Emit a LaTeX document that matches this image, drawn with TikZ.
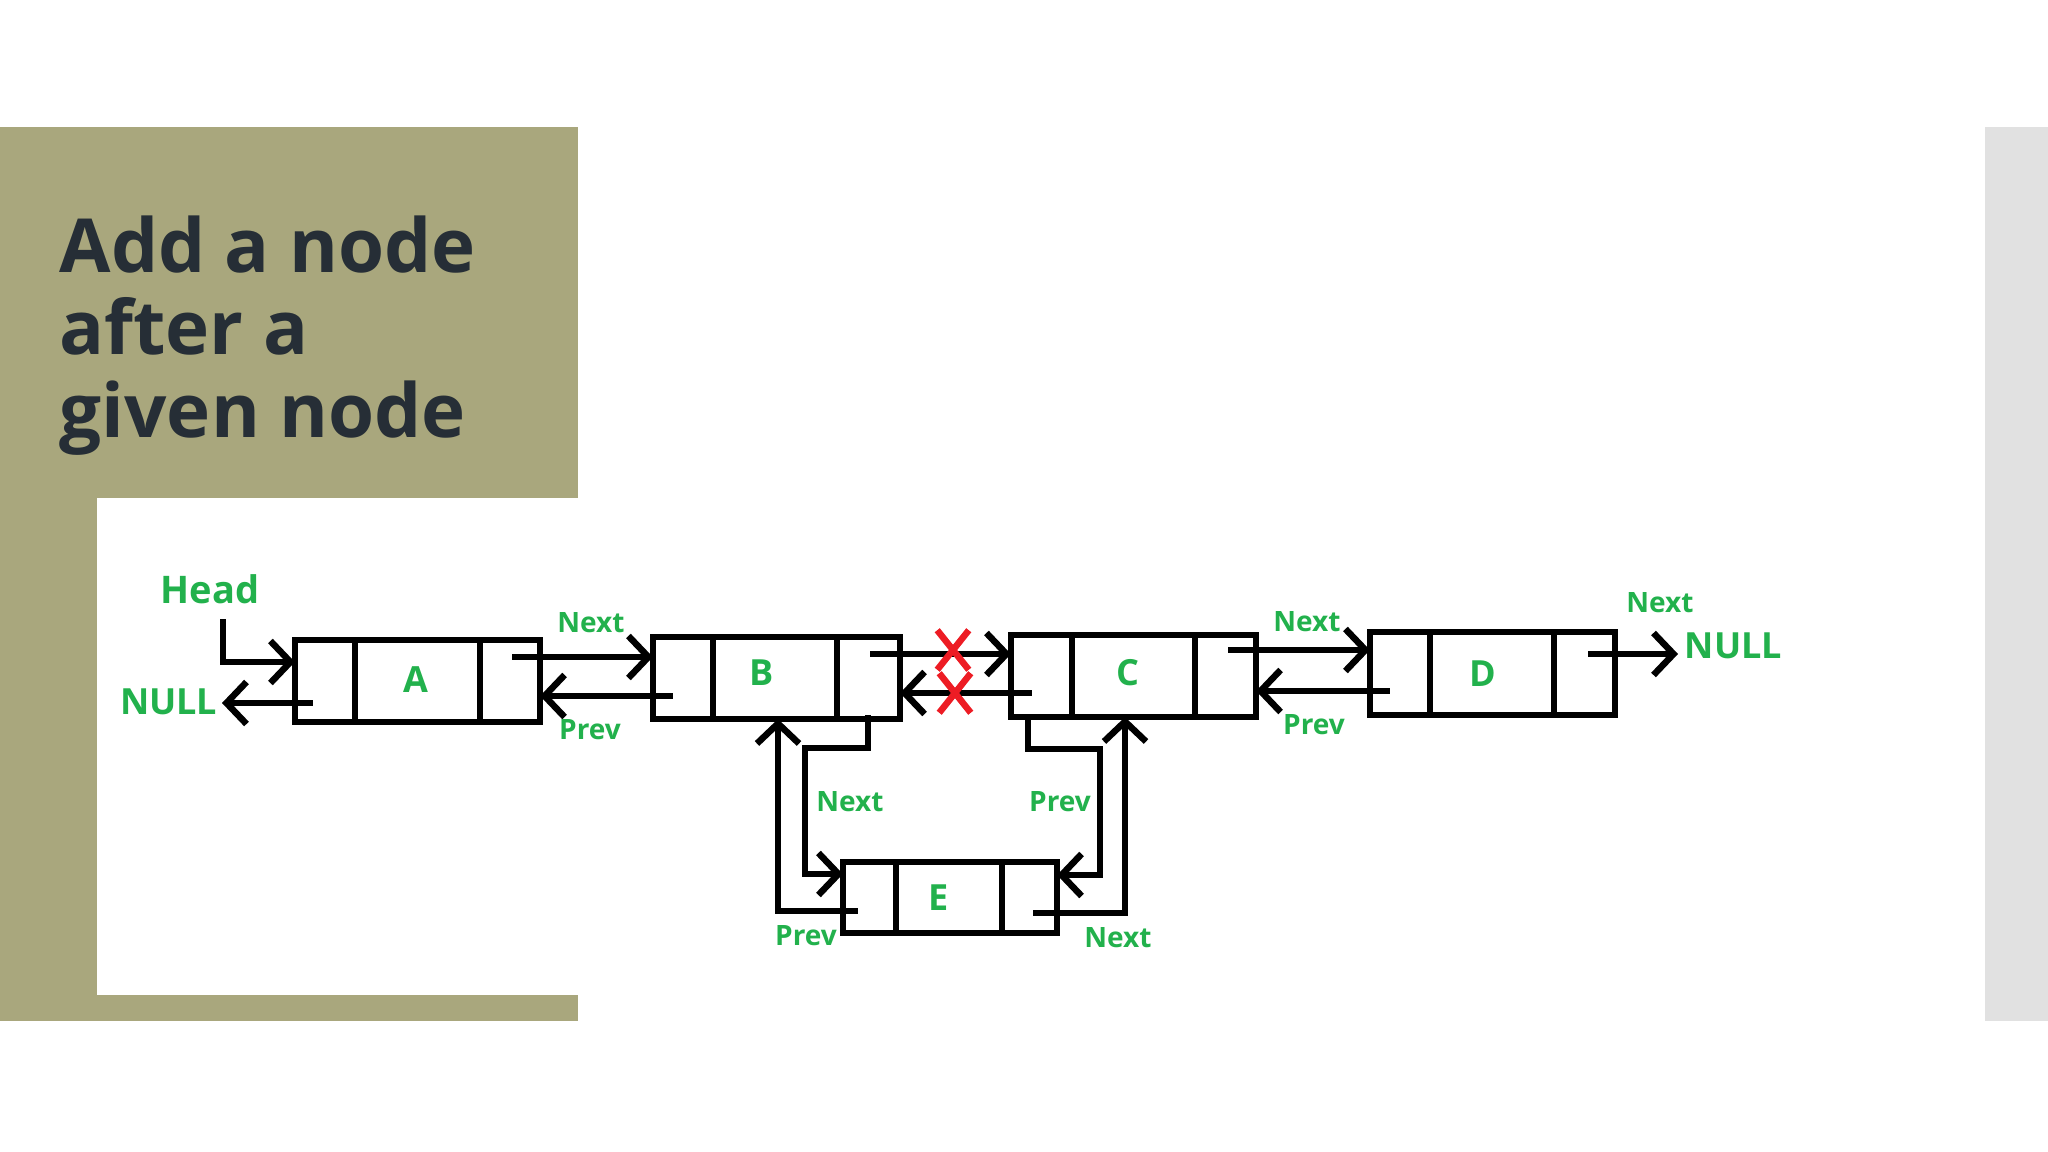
\documentclass[tikz,border=0pt]{standalone}
\usepackage{fontspec}
\setmainfont{Open Sans}
\usepackage{tikz}
\usetikzlibrary{calc,arrows.meta,shapes.misc}

\definecolor{slideolive}{RGB}{169,167,125}
\definecolor{slidegray}{RGB}{225,225,225}
\definecolor{titleink}{RGB}{38,46,54}
\definecolor{paintgreen}{RGB}{34,177,76}
\definecolor{paintred}{RGB}{237,28,36}

\tikzset{
  listbox/.style={draw, line width=0.065cm, minimum width=2.45cm, minimum height=0.82cm,
    inner sep=0pt, outer sep=0pt},
  value/.style={text=paintgreen, inner sep=0pt, font=\bfseries\fontsize{0.36cm}{0.4cm}\selectfont},
  link/.style={line width=0.065cm, -{Straight Barb[length=0.2cm,width=0.42cm]}},
  tag/.style={text=paintgreen, inner sep=0pt, font=\bfseries\fontsize{0.28cm}{0.32cm}\selectfont},
  nulltag/.style={text=paintgreen, inner sep=0pt, font=\bfseries\fontsize{0.36cm}{0.4cm}\selectfont},
  cut/.style={cross out, draw=paintred, line width=0.065cm, minimum width=0.25cm,
    minimum height=0.33cm, inner sep=0pt},
  title/.style={anchor=base west, inner sep=0pt, text=titleink,
    font=\bfseries\fontsize{0.745cm}{0.82cm}\selectfont}
}

\begin{document}
\begin{tikzpicture}[x=0.01cm,y=-0.01cm]
      \useasboundingbox (0,0) rectangle (2048,1152);
      % slide frame
      \fill[slideolive] (0,127) rectangle (578,1021);
      \fill[white] (97,498) rectangle (578,995);
      \fill[slidegray] (1985,127) rectangle (2048,1021);
      \node[title] (title1) at (59,273) {Add a node};
      \node[title] (title2) at (59,355) {after a};
      \node[title] (title3) at (59,438) {given node};
      % the list
      \node[listbox] (A) at (417.5,681) {};
      \node[listbox, minimum width=2.47cm] (B) at (776.5,678) {};
      \node[listbox] (C) at (1133.5,676) {};
      \node[listbox, minimum height=0.83cm] (D) at (1492.5,673.5) {};
      \node[listbox, minimum width=2.14cm, minimum height=0.71cm] (E) at (950,897.5) {};
      \draw[line width=0.065cm] ($(A.north west)+(60,0)$) -- ($(A.south west)+(60,0)$);
      \draw[line width=0.065cm] ($(A.north east)+(-60,0)$) -- ($(A.south east)+(-60,0)$);
      \draw[line width=0.065cm] ($(B.north west)+(60,0)$) -- ($(B.south west)+(60,0)$);
      \draw[line width=0.065cm] ($(B.north east)+(-63,0)$) -- ($(B.south east)+(-63,0)$);
      \draw[line width=0.065cm] ($(C.north west)+(61,0)$) -- ($(C.south west)+(61,0)$);
      \draw[line width=0.065cm] ($(C.north east)+(-61,0)$) -- ($(C.south east)+(-61,0)$);
      \draw[line width=0.065cm] ($(D.north west)+(60,0)$) -- ($(D.south west)+(60,0)$);
      \draw[line width=0.065cm] ($(D.north east)+(-61,0)$) -- ($(D.south east)+(-61,0)$);
      \draw[line width=0.065cm] ($(E.north west)+(53,0)$) -- ($(E.south west)+(53,0)$);
      \draw[line width=0.065cm] ($(E.north east)+(-55,0)$) -- ($(E.south east)+(-55,0)$);
      \node[value] (Aval) at ($(A)+(-1.5,-1)$) {A};
      \node[value] (Bval) at ($(B)+(-15,-5)$) {B};
      \node[value] (Cval) at ($(C)+(-6,-3)$) {C};
      \node[value] (Dval) at ($(D)+(-10,0)$) {D};
      \node[value] (Eval) at ($(E)+(-11,0)$) {E};
      % head and the left end
      \node[tag, font=\bfseries\fontsize{0.38cm}{0.4cm}\selectfont] (head) at (210,589) {Head};
      \coordinate (hd) at (223,619);
      \draw[link] (hd) |- ($(A.west)+(0,-19)$);
      \node[nulltag, anchor=east] (nullA) at (218,702) {NULL};
      \draw[link] ($(A.west)+(18,22)$) -- ($(nullA.east)+(4,1)$);
      % A <-> B
      \draw[link] ($(A.east)+(-28,-24)$) -- ($(B.west)+(0,-21)$);
      \draw[link] ($(B.west)+(20,18)$) -- ($(A.east)+(0,15)$);
      \node[tag] (next1) at (591,623) {Next};
      \node[tag] (prev1) at (590,730) {Prev};
      % B <-> C, now cut
      \draw[link] ($(B.east)+(-30,-24)$) -- ($(C.west)+(0,-22)$);
      \draw[link] ($(C.west)+(21,17)$) -- ($(B.east)+(0,15)$);
      \node[cut] (cut1) at (953,650) {};
      \node[cut] (cut2) at (955,693) {};
      % C <-> D
      \draw[link] ($(C.east)+(-28,-26)$) -- ($(D.west)+(0,-23.5)$);
      \draw[link] ($(D.west)+(20,17.5)$) -- ($(C.east)+(0,15)$);
      \node[tag] (next3) at (1307,622) {Next};
      \node[tag] (prev3) at (1314,725) {Prev};
      % right end
      \node[nulltag, anchor=west] (nullD) at (1684,646) {NULL};
      \draw[link] ($(D.east)+(-27,-19.5)$) -- ($(nullD.west)+(-6,8)$);
      \node[tag] (next4) at (1660,603) {Next};
      % new node E
      \coordinate (bn) at ($(B.south east)+(-32,-4)$);
      \draw[link] (bn) |- ($(E.west)+(-38,-149.5)$) |- ($(E.west)+(0,-23.5)$);
      \draw[link] ($(E.west)+(15,13.5)$) -| ($(B.south)+(1.5,0)$);
      \draw[link] ($(C.south west)+(17,0)$) |- ($(E.east)+(43,-148.5)$) |- ($(E.east)+(0,-22.5)$);
      \draw[link] ($(E.east)+(-24,15.5)$) -| ($(C.south)+(-8.5,0)$);
      \node[tag] (next2) at (850,802) {Next};
      \node[tag] (prev2) at (1060,802) {Prev};
      \node[tag] (prev5) at (806,936) {Prev};
      \node[tag] (next5) at (1118,938) {Next};
\end{tikzpicture}
\end{document}
